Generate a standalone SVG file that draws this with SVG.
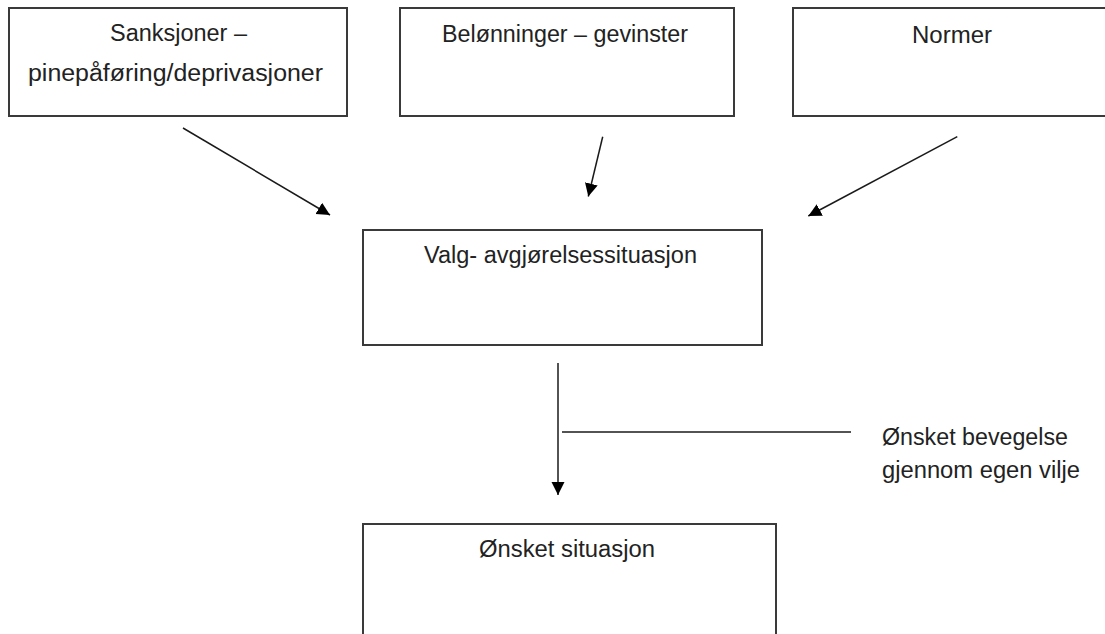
<svg xmlns="http://www.w3.org/2000/svg" width="1105" height="634" viewBox="0 0 1105 634">
<style>
.box{fill:#fff;stroke:#3a3a3a;stroke-width:2}
.lbl{font-family:"Liberation Sans",Arial,sans-serif;font-size:23px;fill:#222}
.c{text-anchor:middle}
.conn{stroke:#1a1a1a;stroke-width:1.5;fill:none}
</style>
<defs>
<marker id="ah" markerUnits="userSpaceOnUse" markerWidth="14" markerHeight="14" refX="13" refY="6.5" orient="auto">
<path d="M0,0 L13,6.5 L0,13 z" fill="#000"/>
</marker>
</defs>
<rect width="1105" height="634" fill="#fff"/>
<g id="node-sanksjoner">
<rect class="box" x="9" y="8" width="338" height="108"/>
<text class="lbl" x="110" y="41" textLength="137" lengthAdjust="spacingAndGlyphs">Sanksjoner –</text>
<text class="lbl" x="28" y="81" textLength="295" lengthAdjust="spacingAndGlyphs">pinepåføring/deprivasjoner</text>
</g>
<g id="node-belonninger">
<rect class="box" x="400" y="8" width="334" height="108"/>
<text class="lbl" x="442" y="42" textLength="246" lengthAdjust="spacingAndGlyphs">Belønninger – gevinster</text>
</g>
<g id="node-normer">
<rect class="box" x="793" y="8" width="320" height="108"/>
<text class="lbl" x="912" y="43" textLength="80" lengthAdjust="spacingAndGlyphs">Normer</text>
</g>
<g id="node-valg">
<rect class="box" x="363" y="230" width="399" height="115"/>
<text class="lbl" x="424" y="263" textLength="273" lengthAdjust="spacingAndGlyphs">Valg- avgjørelsessituasjon</text>
</g>
<g id="node-onsket">
<rect class="box" x="363" y="524" width="413" height="130"/>
<text class="lbl" x="479" y="557" textLength="176" lengthAdjust="spacingAndGlyphs">Ønsket situasjon</text>
</g>
<g id="label-bevegelse">
<text class="lbl" x="882" y="445" textLength="186" lengthAdjust="spacingAndGlyphs">Ønsket bevegelse</text>
<text class="lbl" x="882" y="478" textLength="198" lengthAdjust="spacingAndGlyphs">gjennom egen vilje</text>
</g>
<g id="connectors">
<line class="conn" x1="183" y1="128" x2="330" y2="215" marker-end="url(#ah)"/>
<line class="conn" x1="602.7" y1="136.7" x2="588.3" y2="196.5" marker-end="url(#ah)"/>
<line class="conn" x1="957.3" y1="136.7" x2="808.3" y2="216" marker-end="url(#ah)"/>
<line class="conn" x1="558" y1="363" x2="558" y2="495" marker-end="url(#ah)"/>
<line class="conn" x1="562" y1="432" x2="851" y2="432"/>
</g>
</svg>
